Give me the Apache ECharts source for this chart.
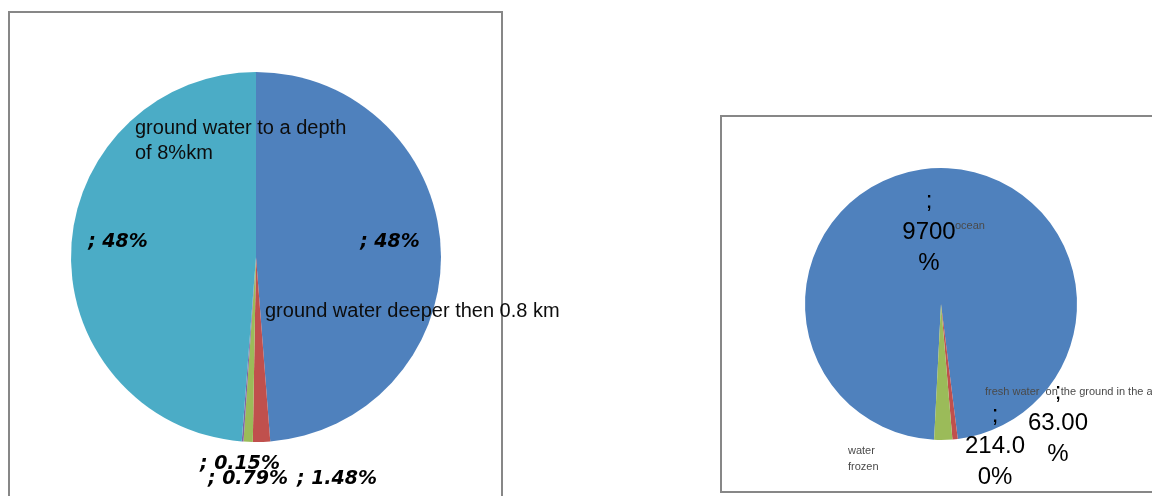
<!DOCTYPE html>
<html>
<head>
<meta charset="utf-8">
<script src="https://cdn.jsdelivr.net/npm/echarts@6/dist/echarts.min.js"></script>
<style>
  html, body { margin: 0; padding: 0; background: #ffffff; }
  #chart { width: 1152px; height: 496px; }
</style>
</head>
<body>
<div id="chart"></div>
<script>
// ---- Data ----
const leftNames = ['', 'ground water deeper then 0.8 km', ' ', '  ', 'ground water to a depth\nof 8%km'];
const leftValues = [48, 1.48, 0.79, 0.15, 48];
const leftColors = ['#4F81BD', '#C0504D', '#9BBB59', '#8064A2', '#4BACC6'];

const rightNames = ['ocean', 'fresh water  on the ground in the air', 'water\nfrozen'];
const rightValues = [9700, 63, 214];
const rightValueLabels = [';\n9700\n%', ';\n63.00\n%', ';\n214.0\n0%'];
const rightColors = ['#4F81BD', '#C0504D', '#9BBB59'];

// ---- Layout (label anchor positions, pixels) ----
const leftValuePos = [
  { x: 390, y: 242, align: 'center' },
  { x: 337, y: 479, align: 'center' },
  { x: 248, y: 479, align: 'center' },
  { x: 240, y: 464, align: 'center' },
  { x: 118, y: 242, align: 'center' }
];
const leftNamePos = [
  null,
  { x: 265, y: 311, align: 'left' },
  null,
  null,
  { x: 135, y: 141, align: 'left' }
];
const rightValuePos = [
  { x: 929, y: 232, align: 'center' },
  { x: 1058, y: 423, align: 'center' },
  { x: 995, y: 446, align: 'center' }
];
const rightNamePos = [
  { x: 955, y: 226, align: 'left' },
  { x: 985, y: 392, align: 'left' },
  { x: 848, y: 459, align: 'left' }
];

function layoutFrom(posArr) {
  return function (params) {
    const p = posArr[params.dataIndex];
    if (!p) return { x: -500, y: -500 };
    return { x: p.x, y: p.y, align: p.align, verticalAlign: 'middle' };
  };
}

const chart = echarts.init(document.getElementById('chart'), null, { renderer: 'canvas' });

const leftData = leftValues.map((v, i) => ({ name: leftNames[i], value: v, itemStyle: { color: leftColors[i] } }));
const rightData = rightValues.map((v, i) => ({ name: rightNames[i], value: v, itemStyle: { color: rightColors[i] } }));

const option = {
  backgroundColor: '#ffffff',
  animation: false,
  graphic: [
    { type: 'rect', shape: { x: 9, y: 12, width: 493, height: 520 }, style: { fill: 'none', stroke: '#878787', lineWidth: 2 }, z: 0 },
    { type: 'rect', shape: { x: 721, y: 116, width: 460, height: 376 }, style: { fill: 'none', stroke: '#878787', lineWidth: 2 }, z: 0 }
  ],
  series: [
    {
      type: 'pie',
      center: [256, 257],
      radius: 185,
      startAngle: 90,
      clockwise: true,
      avoidLabelOverlap: false,
      silent: true,
      data: leftData,
      itemStyle: { borderWidth: 0 },
      label: {
        show: true,
        position: 'inside',
        formatter: p => '; ' + p.value + '%',
        fontFamily: 'DejaVu Sans',
        fontWeight: 'bold',
        fontStyle: 'italic',
        fontSize: 19,
        color: '#000000'
      },
      labelLine: { show: false },
      labelLayout: layoutFrom(leftValuePos)
    },
    {
      type: 'pie',
      center: [256, 257],
      radius: 185,
      startAngle: 90,
      clockwise: true,
      avoidLabelOverlap: false,
      silent: true,
      data: leftData.map(d => ({ name: d.name, value: d.value, itemStyle: { color: 'rgba(0,0,0,0)' } })),
      label: {
        show: true,
        position: 'inside',
        formatter: p => p.name,
        fontFamily: 'Liberation Sans',
        fontSize: 20,
        lineHeight: 25,
        color: '#0d0d0d'
      },
      labelLine: { show: false },
      labelLayout: layoutFrom(leftNamePos)
    },
    {
      type: 'pie',
      center: [941, 304],
      radius: 136,
      startAngle: -92.9,
      clockwise: true,
      avoidLabelOverlap: false,
      silent: true,
      data: rightData,
      itemStyle: { borderWidth: 0 },
      label: {
        show: true,
        position: 'inside',
        formatter: p => p.name,
        fontFamily: 'Liberation Sans',
        fontSize: 11,
        lineHeight: 16,
        color: '#4a4a4a'
      },
      labelLine: { show: false },
      labelLayout: layoutFrom(rightNamePos)
    },
    {
      type: 'pie',
      center: [941, 304],
      radius: 136,
      startAngle: -92.9,
      clockwise: true,
      avoidLabelOverlap: false,
      silent: true,
      data: rightData.map(d => ({ name: d.name, value: d.value, itemStyle: { color: 'rgba(0,0,0,0)' } })),
      label: {
        show: true,
        position: 'inside',
        formatter: p => rightValueLabels[p.dataIndex],
        fontFamily: 'Liberation Sans',
        fontSize: 24,
        lineHeight: 31,
        color: '#000000'
      },
      labelLine: { show: false },
      labelLayout: layoutFrom(rightValuePos)
    }
  ]
};

chart.setOption(option);
</script>
</body>
</html>
